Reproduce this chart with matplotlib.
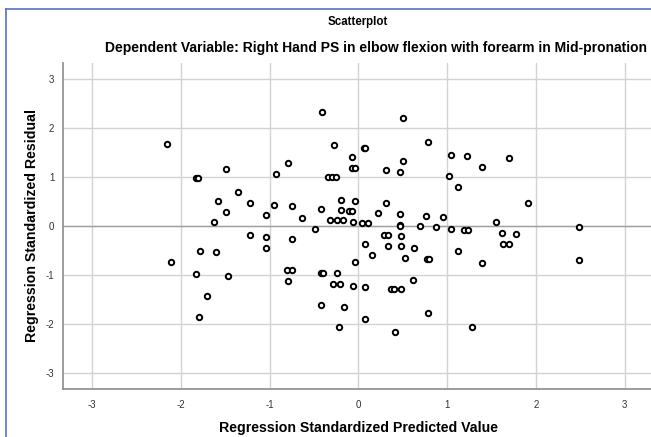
import matplotlib
matplotlib.use("Agg")
import matplotlib.pyplot as plt
from matplotlib.lines import Line2D

plt.rcParams['font.family'] = ['Liberation Sans', 'DejaVu Sans']
plt.rcParams['axes.unicode_minus'] = False

# standardized predicted value (x) and standardized residual (y)
pred = [-2.16, -1.83, -1.81, -1.49, -1.36, -1.58, -1.22, -1.49, -1.63,
        -0.41, 0.50, 0.79, -0.27, 0.06, 0.08, -0.07, 1.04, 0.50, -0.79,
        -0.07, -0.04, 0.31, 0.47, -0.93, -0.34, -0.30, -0.25, 1.02,
        -0.95, -0.75, -1.04, -0.63, -0.42, -0.19, -0.04, -0.19, -0.10, -0.07,
        0.31, 0.22, 0.47, 0.76, 0.95, -0.32, -0.24, -0.17, -0.06, 0.04, 0.11,
        0.47, 0.47, 0.70, 0.88, -0.49, 1.04,
        1.22, 1.70, 1.39, 1.12, 1.91, 1.55, 2.49, 1.19, 1.24, 1.62, 1.78,
        1.63, 1.70, 1.12, 1.39, 2.49, 1.28,
        -1.22, -1.78, -1.60, -2.11, -1.83, -1.47, -1.71, -1.79,
        -1.04, -1.04, -0.75, 0.29, 0.33, 0.48, 0.07, 0.33, 0.48, 0.63,
        0.15, 0.53, 0.77, 0.80, -0.04, -0.80, -0.75, -0.42, -0.40, -0.24,
        -0.79, -0.28, -0.21, -0.06, 0.08, 0.62, 0.37, 0.40, 0.48,
        -0.42, -0.16, 0.79, 0.08, -0.22, 0.41]
resid = [1.68, 0.98, 0.98, 1.16, 0.70, 0.51, 0.46, 0.28, 0.08,
         2.32, 2.20, 1.72, 1.65, 1.60, 1.60, 1.40, 1.46, 1.33, 1.28,
         1.18, 1.18, 1.14, 1.10, 1.07, 1.00, 1.00, 1.00, 1.03,
         0.43, 0.40, 0.22, 0.16, 0.35, 0.54, 0.52, 0.32, 0.31, 0.31,
         0.48, 0.27, 0.24, 0.20, 0.18, 0.12, 0.12, 0.12, 0.08, 0.07, 0.07,
         0.03, 0.01, 0.00, -0.03, -0.06, -0.06,
         1.44, 1.38, 1.20, 0.80, 0.48, 0.09, -0.03, -0.09, -0.09, -0.14, -0.16,
         -0.36, -0.36, -0.51, -0.76, -0.69, -2.06,
         -0.19, -0.51, -0.54, -0.73, -0.98, -1.03, -1.44, -1.86,
         -0.22, -0.44, -0.26, -0.18, -0.18, -0.20, -0.37, -0.40, -0.41, -0.44,
         -0.59, -0.65, -0.68, -0.68, -0.74, -0.90, -0.90, -0.96, -0.96, -0.97,
         -1.12, -1.19, -1.19, -1.22, -1.24, -1.10, -1.29, -1.29, -1.29,
         -1.61, -1.65, -1.78, -1.90, -2.07, -2.16]

ticks = [-3, -2, -1, 0, 1, 2, 3]

W, H = 651, 437
fig = plt.figure(figsize=(W / 100, H / 100), dpi=100)

# thin blue frame of the output window
fig.add_artist(Line2D([6 / W, 6 / W], [0, 1 - 9 / H], transform=fig.transFigure,
                      color='#5b6fc9', lw=1.2))
fig.add_artist(Line2D([6 / W, 1], [1 - 9 / H, 1 - 9 / H], transform=fig.transFigure,
                      color='#5b6fc9', lw=1.2))

left, right = 62.7 / W, 654 / W
bottom, top = 1 - 389 / H, 1 - 63 / H
ax = fig.add_axes([left, bottom, right - left, top - bottom])

ax.set_xlim(-3.33, 3.33)
ax.set_ylim(-3.33, 3.33)
ax.set_xticks(ticks)
ax.set_yticks(ticks)
ax.grid(True, color='#d2d2d2', lw=1.0)
ax.set_axisbelow(True)
ax.axhline(0, color='#a0a0a0', lw=1.0, zorder=1)

for s in ['top', 'right']:
    ax.spines[s].set_visible(False)
for s in ['left', 'bottom']:
    ax.spines[s].set_color('#8c8c8c')
    ax.spines[s].set_linewidth(1.2)

ax.tick_params(length=0, labelsize=7, colors='#333333')
ax.tick_params(axis='x', pad=8)
ax.tick_params(axis='y', pad=6)

ax.plot(pred, resid, 'o', ms=3.9, mfc='white', mec='black', mew=1.4, zorder=3)

ax.set_xlabel('Regression Standardized Predicted Value', fontsize=10.2, fontweight='bold',
              labelpad=8)
ax.set_ylabel('Regression Standardized Residual', fontsize=10.2, fontweight='bold',
              labelpad=5)

fig.text(358 / W, 1 - 22 / H, 'Scatterplot', ha='center', va='center',
         fontsize=8.3, fontweight='bold')
fig.text(105 / W, 1 - 48 / H,
         'Dependent Variable: Right Hand PS in elbow flexion with forearm in Mid-pronation',
         ha='left', va='center', fontsize=10, fontweight='bold')

fig.savefig('out.png', dpi=100)
